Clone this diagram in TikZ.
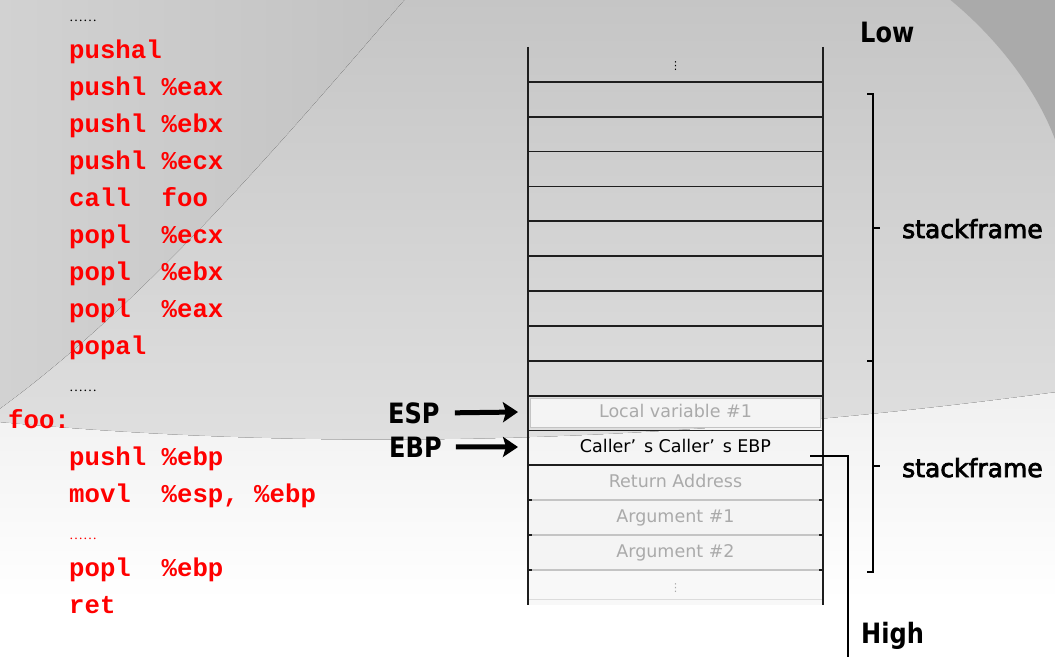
\documentclass[tikz,border=0pt]{standalone}
\usepackage{fontspec}
\setmainfont{DejaVu Sans}
\newfontfamily\codefont{Liberation Mono}
\newfontfamily\dotfont{Liberation Serif}
\newfontfamily\labfont{DejaVu Sans}
\newfontfamily\sffont[FakeBold=3]{DejaVu Sans}
\newfontfamily\capfont[FakeStretch=0.86]{DejaVu Sans}
\usetikzlibrary{arrows.meta}
\definecolor{codered}{RGB}{255,0,0}
\definecolor{bgA}{RGB}{197,197,197}
\definecolor{bgB}{RGB}{236,236,236}
\definecolor{bgL}{RGB}{210,210,210}
\definecolor{bgM}{RGB}{194,194,194}
\definecolor{bgdark}{RGB}{170,170,170}
\definecolor{swA}{RGB}{231,231,231}
\definecolor{cellfill}{RGB}{244,244,244}
\definecolor{cellline}{RGB}{196,196,196}
\definecolor{faint}{RGB}{170,170,170}
\definecolor{linecol}{RGB}{30,30,30}
\pgfdeclareverticalshading{swooshshade}{100bp}{color(0bp)=(white); color(36bp)=(white); color(100bp)=(swA)}
\begin{document}
\begin{tikzpicture}[x=1pt,y=-1pt,
  code/.style={anchor=base west,inner sep=0pt,font=\codefont\bfseries\fontsize{25.7}{25.7}\selectfont,text=codered},
  dots/.style={anchor=base west,inner sep=0pt,font=\dotfont\fontsize{14}{14}\selectfont},
  cell/.style={minimum width=295pt,minimum height=34.857pt,inner sep=0pt,text height=12.5pt,text depth=3.5pt,font=\labfont\fontsize{17.5}{17.5}\selectfont},
  litecell/.style={cell,fill=cellfill,text=faint},
  hl/.style={draw=linecol,line width=1.7pt},
  gl/.style={draw=cellline,line width=1.4pt},
  vl/.style={draw=linecol,line width=1.8pt},
  big/.style={anchor=base west,inner sep=0pt,font=\capfont\bfseries\fontsize{28}{28}\selectfont},
  sf/.style={anchor=base west,inner sep=0pt,font=\sffont\fontsize{25}{25}\selectfont},
  bigarrow/.style={line width=5pt,-{Stealth[length=15pt,width=20pt,inset=3pt]}},
  brk/.style={draw=black,line width=1.5pt},
  ptr/.style={draw=black,line width=1.3pt}
]
\useasboundingbox (0,0) rectangle (1055,657);
% background
\fill[top color=bgA,bottom color=bgB] (-2,-2) rectangle (1057,659);
\fill[left color=bgL,right color=bgM] (-2,-2) -- (406,-2) .. controls (300,120) and (150,300) .. (-2,410) -- cycle;
\fill[bgdark] (948,-2) .. controls (1000,40) and (1040,95) .. (1057,145) -- (1057,-2) -- cycle;
\fill[shading=swooshshade] (-2,422) .. controls (350,455) and (700,440) .. (1057,392) -- (1057,659) -- (-2,659) -- cycle;

% code
\node[dots] (d0) at (69,21) {……};
\node[code] (l1) at (69,58) {pushal};
\node[code] (l2) at (69,95) {pushl \%eax};
\node[code] (l3) at (69,132) {pushl \%ebx};
\node[code] (l4) at (69,169) {pushl \%ecx};
\node[code] (l5) at (69,206) {call~~foo};
\node[code] (l6) at (69,243) {popl~~\%ecx};
\node[code] (l7) at (69,280) {popl~~\%ebx};
\node[code] (l8) at (69,317) {popl~~\%eax};
\node[code] (l9) at (69,354) {popal};
\node[dots] (d1) at (69,391) {……};
\node[code] (l11) at (8,428) {foo:};
\node[code] (l12) at (69,465) {pushl \%ebp};
\node[code] (l13) at (69,502) {movl~~\%esp, \%ebp};
\node[dots,text=codered] (d2) at (69,539) {……};
\node[code] (l15) at (69,576) {popl~~\%ebp};
\node[code] (l16) at (69,613) {ret};

% stack cells
\node[cell] (c0) at (675.5,64.57) {\fontsize{11}{11}\selectfont ⋮};
\node[cell] (c1) at (675.5,99.43) {};
\node[cell] (c2) at (675.5,134.29) {};
\node[cell] (c3) at (675.5,169.14) {};
\node[cell] (c4) at (675.5,204.00) {};
\node[cell] (c5) at (675.5,238.86) {};
\node[cell] (c6) at (675.5,273.71) {};
\node[cell] (c7) at (675.5,308.57) {};
\node[cell] (c8) at (675.5,343.43) {};
\node[cell] (c9) at (675.5,378.29) {};
\node[cell,minimum width=290pt,minimum height=29pt,fill=cellfill,draw=cellline,line width=1pt,text=faint] (c10) at (675.5,413.14) {Local variable \#1};
\node[cell] (c11) at (675.5,448.00) {Caller’\hspace{0.45em}s Caller’\hspace{0.45em}s EBP};
\node[litecell] (c12) at (675.5,482.86) {Return Address};
\node[litecell] (c13) at (675.5,517.71) {Argument \#1};
\node[litecell] (c14) at (675.5,552.57) {Argument \#2};
\node[litecell,fill=cellfill!60!white] (c15) at (675.5,587.43) {\fontsize{11}{11}\selectfont ⋮};

% horizontal lines
\foreach \c in {c1,c2,c3,c4,c5,c6,c7,c8,c9,c11,c12}
  \draw[hl] (\c.north west) -- (\c.north east);
\draw[hl] (c9.south west) -- (c9.south east);
\foreach \c in {c13,c14,c15}{
  \draw[gl] (\c.north west) -- (\c.north east);
  \draw[hl] (\c.north west) -- ++(4,0);
  \draw[hl] (\c.north east) -- ++(-4,0);
}
\draw[draw=cellline!60!white,line width=1pt] ([yshift=6pt]c15.south west) -- ([yshift=6pt]c15.south east);
% vertical lines
\draw[vl] (c0.north west) -- (c15.south west);
\draw[vl] (c0.north east) -- (c15.south east);

% labels
\node[big] (low) at (860,42) {Low};
\node[big] (high) at (861,643) {High};
\node[big] (esp) at (388,423) {ESP};
\node[big] (ebp) at (389,457) {EBP};
\coordinate (esptip) at (518,412);
\coordinate (ebptip) at (518,447);
\draw[bigarrow] ([xshift=15pt]esp.east) -- (esptip);
\draw[bigarrow] ([xshift=14pt]ebp.east) -- (ebptip);

% brackets
\node[sf] (sf1) at (902,238) {stackframe};
\node[sf] (sf2) at (902,477) {stackframe};
\draw[brk] (867,94) -- (873,94) -- (873,361) -- (867,361);
\draw[brk] (873,228) -- (880,228);
\draw[brk] (873,361) -- (873,572) -- (867,572);
\draw[brk] (873,466) -- (880,466);

% saved EBP pointer
\coordinate (ebpout) at (810,456);
\coordinate (ebpend) at (848,657);
\draw[ptr] (ebpout) -| (ebpend);
\end{tikzpicture}
\end{document}
